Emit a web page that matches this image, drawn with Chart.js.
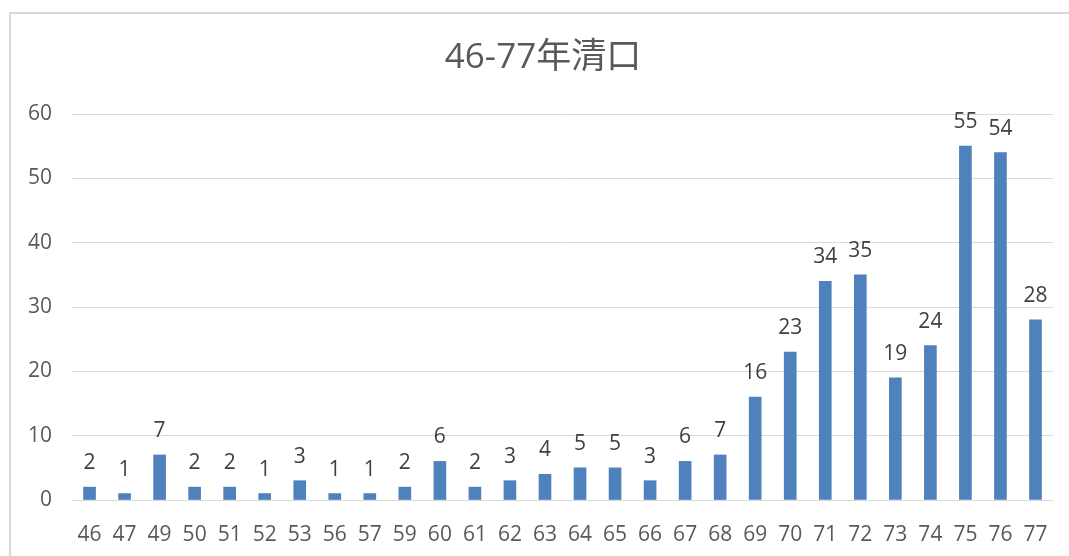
<!DOCTYPE html>
<html>
<head>
<meta charset="utf-8">
<script src="https://cdn.jsdelivr.net/npm/chart.js@4"></script>
<style>
  html, body { margin: 0; padding: 0; background: #fff; }
  #wrap { position: relative; width: 1069px; height: 556px; overflow: hidden; }
  #frame { position: absolute; left: 9px; top: 12px; width: 1100px; height: 600px;
           border-left: 2px solid #d9d9d9; border-top: 2px solid #d9d9d9; box-sizing: border-box; }
  #c { position: absolute; left: 0; top: 0; }
</style>
</head>
<body>
<div id="wrap">
  <div id="frame"></div>
  <canvas id="c" width="1069" height="556"></canvas>
</div>
<script>
// years (民國) and counts
var years = ['46', '47', '49', '50', '51', '52', '53', '56', '57', '59', '60', '61', '62', '63',
             '64', '65', '66', '67', '68', '69', '70', '71', '72', '73', '74', '75', '76', '77'];
var counts = [2, 1, 7, 2, 2, 1, 3, 1, 1, 2, 6, 2, 3, 4, 5, 5, 3, 6, 7, 16, 23, 34, 35, 19, 24, 55, 54, 28];
var yTicks = [0, 10, 20, 30, 40, 50, 60];
var titleText = '46-77年清口';

var fontFamily = '"Open Sans", "Noto Sans CJK TC", sans-serif';

// title centred on the chart frame (Excel style), plus the values above each bar
var barLabels = {
    id: 'barLabels',
    afterDatasetsDraw: function (chart) {
        var ctx = chart.ctx;
        var meta = chart.getDatasetMeta(0);
        ctx.save();
        ctx.font = '35px ' + fontFamily;
        ctx.fillStyle = '#595959';
        ctx.textAlign = 'center';
        ctx.textBaseline = 'middle';
        ctx.fillText(titleText, 543, 58);

        ctx.font = '21px ' + fontFamily;
        ctx.fillStyle = '#404040';
        ctx.textBaseline = 'alphabetic';
        meta.data.forEach(function (bar, i) {
            ctx.fillText(String(counts[i]), bar.x, bar.y - 18);
        });
        ctx.restore();
    }
};

var ctx = document.getElementById('c').getContext('2d');
var chart = new Chart(ctx, {
    type: 'bar',
    data: {
        labels: years,
        datasets: [{
            label: '清口',
            data: counts,
            backgroundColor: '#4f81bd',
            barThickness: 12
        }]
    },
    options: {
        responsive: false,
        animation: false,
        layout: { padding: { left: 0, right: 16, top: 114, bottom: 0 } },
        plugins: {
            legend: { display: false },
            tooltip: { enabled: false },
            title: { display: false }
        },
        scales: {
            x: {
                grid: { display: false },
                border: { display: false },
                ticks: {
                    color: '#595959',
                    font: { family: fontFamily, size: 21 },
                    padding: 14,
                    maxRotation: 0,
                    autoSkip: false
                },
                afterFit: function (s) { s.height = 56; }
            },
            y: {
                min: 0,
                max: 60,
                afterBuildTicks: function (s) {
                    s.ticks = yTicks.map(function (v) { return { value: v }; });
                },
                grid: { color: '#d9d9d9', lineWidth: 1, drawTicks: false },
                border: { display: false },
                ticks: {
                    color: '#595959',
                    font: { family: fontFamily, size: 21 },
                    padding: 20
                },
                afterFit: function (s) { s.width = 72; }
            }
        }
    },
    plugins: [barLabels]
});
</script>
</body>
</html>
